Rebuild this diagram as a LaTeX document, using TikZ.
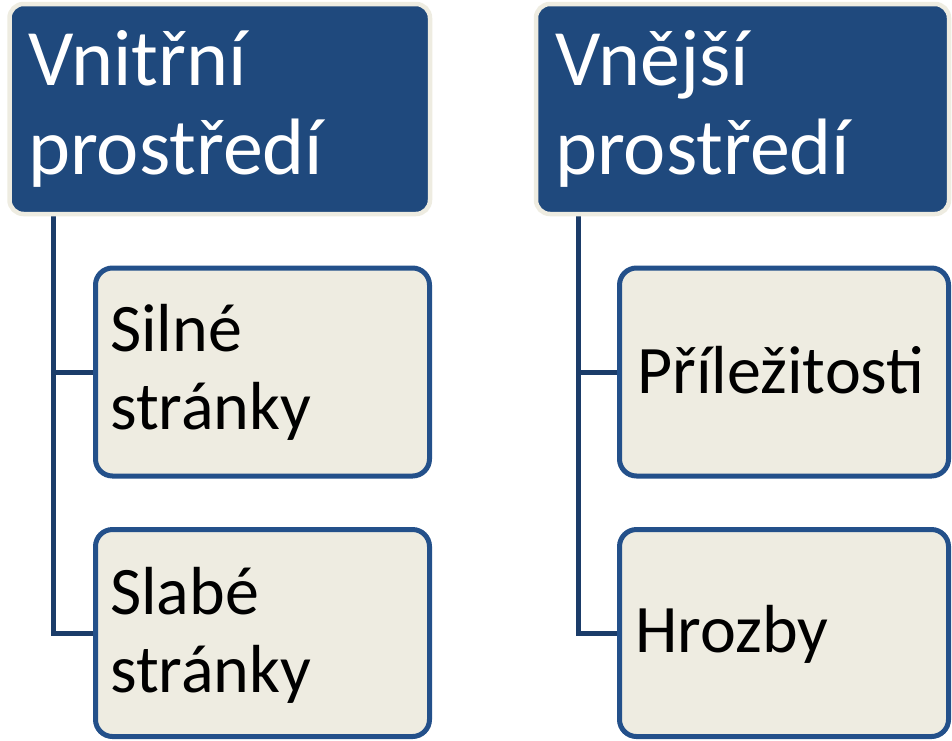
\documentclass[tikz,border=0pt]{standalone}
\usepackage{fontspec}
\setmainfont{Carlito}
\usetikzlibrary{backgrounds}
\definecolor{headfill}{HTML}{1F497D}
\definecolor{cream}{HTML}{EEECE1}
\definecolor{childline}{HTML}{23508A}
\definecolor{spine}{HTML}{1B3C69}
\tikzset{
  headbox/.style={draw=cream, fill=headfill, line width=4.5pt, rounded corners=14pt,
    inner sep=0pt, minimum height=210pt},
  childbox/.style={draw=childline, fill=cream, line width=5pt, rounded corners=17pt,
    inner sep=0pt, minimum height=208pt},
  headtext/.style={anchor=west, inner sep=0pt, align=left, text=white,
    font=\fontsize{80}{89}\selectfont},
  childtext/.style={anchor=west, inner sep=0pt, align=left, text=black,
    font=\fontsize{68}{78}\selectfont},
  connector/.style={draw=spine, line width=5pt}
}
\begin{document}
\begin{tikzpicture}[x=1pt, y=-1pt]
\useasboundingbox (0,0) rectangle (952,740);

% headers
\node[headbox, minimum width=420.5pt] (inner) at (219.75,109) {};
\node[headbox, minimum width=413pt] (outer) at (742.5,109) {};

% spines hanging from the two headers
\coordinate (spineL) at (53,212);
\coordinate (spineR) at (578,212);

% child boxes
\node[childbox, minimum width=334pt] (strong) at (262.5,372) {};
\node[childbox, minimum width=334pt, minimum height=207pt] (weak) at (262.5,633) {};
\node[childbox, minimum width=329pt] (opp) at (784,372) {};
\node[childbox, minimum width=329pt, minimum height=207pt] (threat) at (784,633) {};

% connectors, kept behind the boxes
\begin{scope}[on background layer]
\draw[connector] (spineL) |- (strong.west);
\draw[connector] (spineL) |- (weak.west);
\draw[connector] (spineR) |- (opp.west);
\draw[connector] (spineR) |- (threat.west);
\end{scope}

% texts
\node[headtext] (innerT) at (28,109) {Vnitřní\\prostředí};
\node[headtext] (outerT) at (555,109) {Vnější\\prostředí};
\node[childtext] (strongT) at (110,372) {Silné\\stránky};
\node[childtext] (weakT) at (110,635) {Slabé\\stránky};
\node[childtext] (oppT) at (637,370) {Příležitosti};
\node[childtext] (threatT) at (635,634) {Hrozby};
\end{tikzpicture}
\end{document}
